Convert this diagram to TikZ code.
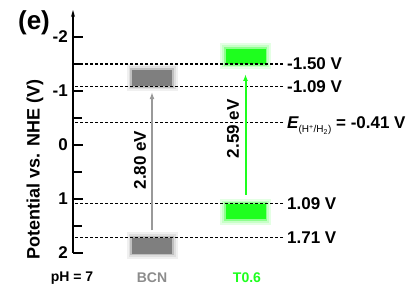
\documentclass[tikz,border=0pt]{standalone}
\usepackage{fontspec}
\setmainfont{Liberation Sans}
\usetikzlibrary{arrows.meta, positioning, calc}

\definecolor{bcngray}{HTML}{7F7F7F}
\definecolor{arrgray}{HTML}{999999}
\definecolor{tgreen}{HTML}{1EFF1E}

\tikzset{
  eline/.style={dash pattern=on 3pt off 2pt, line width=1.2pt},
  band/.style={minimum width=40pt, minimum height=16pt, inner sep=0pt, fill=#1,
    preaction={draw=#1!12, line width=11pt, rounded corners=3pt},
    preaction={draw=#1!25, line width=7pt, rounded corners=3pt},
    preaction={draw=#1!50, line width=3.5pt, rounded corners=2pt}},
  gaparrow/.style={-{Latex[length=7pt,width=5pt]}, line width=1.6pt},
  val/.style={anchor=west, inner sep=0pt, text height=12pt, text depth=0pt},
  samplelab/.style={font=\fontsize{14}{16}\selectfont\bfseries},
}

\begin{document}
\begin{tikzpicture}[x=1pt, y=-54pt, font=\fontsize{17}{20}\selectfont\bfseries]
  \useasboundingbox (0,-2.685) rectangle (416,2.667);
  % Axis
  \coordinate (axbot) at (73,2);
  \coordinate (axtop) at (73,-2.5);
  \draw[line width=1.5pt, -{Stealth[length=7pt,width=4pt]}] (axbot) -- (axtop);
  \foreach \v/\n in {-2/a,-1/b,0/c,1/d,2/e}{
    \draw[line width=1.3pt] (73,\v) -- (83,\v);
    \node[anchor=east, inner sep=0pt] (tick\n) at (68,\v) {\v};
  }
  \foreach \v in {-1.5,-0.5,0.5,1.5}
    \draw[line width=1.3pt] (73,\v) -- (82,\v);
  \node[rotate=90, font=\fontsize{18}{20}\selectfont\bfseries] (ylab) at (35,0.46) {Potential vs. NHE (V)};
  \node[font=\fontsize{26}{28}\selectfont\bfseries] (panel) at (34,-2.26) {(e)};

  % Bands
  \node[band=bcngray, anchor=south] (bcncb) at (152,-1.09) {};
  \node[band=bcngray, anchor=north] (bcnvb) at (152,1.71) {};
  \node[band=tgreen, anchor=south, minimum height=15pt] (tcb) at (245.5,-1.50) {};
  \node[band=tgreen, anchor=north, minimum height=15pt] (tvb) at (245.5,1.09) {};

  % Levels
  \node[val] (ltcb) at (287,-1.50) {-1.50 V};
  \node[val] (lbcb) at (287,-1.09) {-1.09 V};
  \node[val] (lhyd) at (287,-0.41) {{\itshape E}\raisebox{-0.45ex}{\fontsize{10}{11}\selectfont\mdseries (H\textsuperscript{+}/H\textsubscript{2})} = -0.41 V};
  \node[val] (ltvb) at (287,1.09) {1.09 V};
  \node[val] (lbvb) at (287,1.71) {1.71 V};
  \foreach \n in {ltcb,lbcb,lhyd,ltvb,lbvb}
    \draw[eline] ([xshift=-4pt]\n.west) -- (\n.west -| axbot);

  % Gaps
  \draw[gaparrow, color=arrgray] (bcnvb.north) ++(0,7pt) -- ([yshift=-6pt]bcncb.south);
  \draw[gaparrow, color=tgreen, line width=2pt] (tvb.north) ++(0,9pt) -- ([yshift=-10pt]tcb.south);
  \node[rotate=90] (ebcn) at (140,0.28) {2.80 eV};
  \node[rotate=90] (et) at (233,-0.30) {2.59 eV};

  % Samples
  \node[samplelab] (ph) at (72,2.46) {pH = 7};
  \node[samplelab, text=bcngray!90] (nbcn) at (152,2.46) {BCN};
  \node[samplelab, text=tgreen] (nt) at (247,2.46) {T0.6};
\end{tikzpicture}
\end{document}
